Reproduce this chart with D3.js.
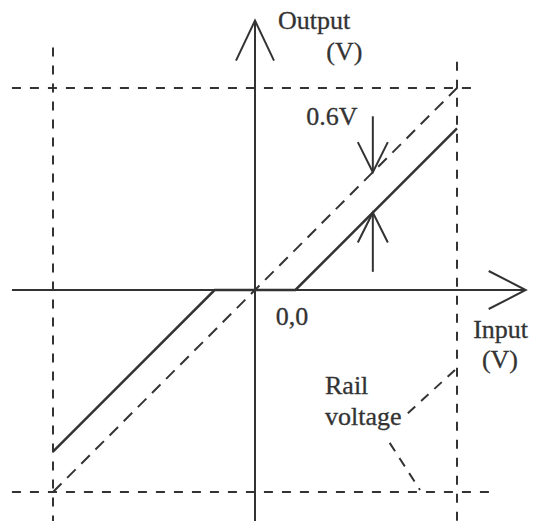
<!DOCTYPE html>
<html>
<head>
<meta charset="utf-8">
<script src="https://cdn.jsdelivr.net/npm/d3@7"></script>
<style>
  html, body { margin: 0; padding: 0; background: #fff; }
  svg { display: block; }
  text { font-family: "Liberation Serif", "DejaVu Serif", serif; fill: #333; stroke: #333; stroke-width: 0.3px; }
</style>
</head>
<body>
<div id="chart"></div>
<script>
// all values in volts
const RAIL = 3;
const DROP = 0.6;

// ideal output (dashed) and real output with diode drop (solid)
const idealPts = [[-3, -3], [3, 3]];
const realPts = [[-3, -2.4], [-0.6, 0], [0.6, 0], [3, 2.4]];

// rail lines: [x1, y1, x2, y2]
const railLines = [
  [-3.61, 3, 3.3, 3],
  [-3.61, -3, 3.56, -3],
  [-3, 3.6, -3, -3.45],
  [3, 3.39, 3, -3.45]
];

// axis extents
const xAxisExt = [-3.61, 4.02];
const yAxisExt = [-3.45, 4.0];

// 0.6V annotation at input 1.75
const dropAt = 1.75;
const dropTail = [2.58, 0.27];

// "Rail voltage" leader lines
const leaders = [
  [2.27, -1.83, 3, -1.16],
  [2.0, -2.27, 2.45, -2.97]
];

const labels = [
  { t: "Output", x: 0.34, y: 3.87 },
  { t: "(V)", x: 1.06, y: 3.42 },
  { t: "0.6V", x: 0.76, y: 2.45 },
  { t: "Input", x: 3.24, y: -0.72 },
  { t: "(V)", x: 3.37, y: -1.16 },
  { t: "0,0", x: 0.31, y: -0.52 },
  { t: "Rail", x: 1.04, y: -1.55 },
  { t: "voltage", x: 1.04, y: -2.0 }
];

const W = 533, H = 521;
const ink = "#333";

const x = d3.scaleLinear().domain([-RAIL, RAIL]).range([53, 457]);
const y = d3.scaleLinear().domain([-RAIL, RAIL]).range([492, 88]);

const svg = d3.select("#chart").append("svg")
  .attr("width", W).attr("height", H);

const line = d3.line().x(d => x(d[0])).y(d => y(d[1]));

// rails
svg.selectAll(".rail")
  .data(railLines).join("line")
  .attr("class", "rail")
  .attr("x1", d => x(d[0])).attr("y1", d => y(d[1]))
  .attr("x2", d => x(d[2])).attr("y2", d => y(d[3]))
  .attr("stroke", ink).attr("stroke-width", 2)
  .attr("stroke-dasharray", "9,9");

// ideal transfer
svg.append("path")
  .attr("d", line(idealPts))
  .attr("fill", "none").attr("stroke", ink).attr("stroke-width", 2)
  .attr("stroke-dasharray", "12,8");

// real transfer
svg.append("path")
  .attr("d", line(realPts))
  .attr("fill", "none").attr("stroke", ink).attr("stroke-width", 2.5);

// axes
svg.append("line")
  .attr("x1", x(xAxisExt[0])).attr("x2", x(xAxisExt[1]))
  .attr("y1", y(0)).attr("y2", y(0))
  .attr("stroke", ink).attr("stroke-width", 2);
svg.append("line")
  .attr("x1", x(0)).attr("x2", x(0))
  .attr("y1", y(yAxisExt[0])).attr("y2", y(yAxisExt[1]))
  .attr("stroke", ink).attr("stroke-width", 2);

// open arrow heads
const arrowHead = (tx, ty, dx, dy) => {
  svg.append("path")
    .attr("d", `M${tx + dx[0]},${ty + dy[0]}L${tx},${ty}L${tx + dx[1]},${ty + dy[1]}`)
    .attr("fill", "none").attr("stroke", ink).attr("stroke-width", 2);
};
arrowHead(x(0), y(yAxisExt[1]), [-19, 19], [40, 40]);
arrowHead(x(xAxisExt[1]), y(0), [-37, -37], [-19, 19]);

// 0.6V drop arrows
const ax = x(dropAt);
const yTop = y(dropAt), yBot = y(dropAt - DROP);
svg.append("line")
  .attr("x1", ax).attr("x2", ax).attr("y1", y(dropTail[0])).attr("y2", yTop)
  .attr("stroke", ink).attr("stroke-width", 2);
arrowHead(ax, yTop, [-15, 15], [-30, -30]);
svg.append("line")
  .attr("x1", ax).attr("x2", ax).attr("y1", y(dropTail[1])).attr("y2", yBot)
  .attr("stroke", ink).attr("stroke-width", 2);
arrowHead(ax, yBot, [-15, 15], [30, 30]);

// rail voltage leaders
svg.selectAll(".leader")
  .data(leaders).join("line")
  .attr("class", "leader")
  .attr("x1", d => x(d[0])).attr("y1", d => y(d[1]))
  .attr("x2", d => x(d[2])).attr("y2", d => y(d[3]))
  .attr("stroke", ink).attr("stroke-width", 2)
  .attr("stroke-dasharray", "10,8");

svg.selectAll(".lbl")
  .data(labels).join("text")
  .attr("class", "lbl")
  .attr("x", d => x(d.x)).attr("y", d => y(d.y))
  .style("font-size", "26px")
  .text(d => d.t);
</script>
</body>
</html>
